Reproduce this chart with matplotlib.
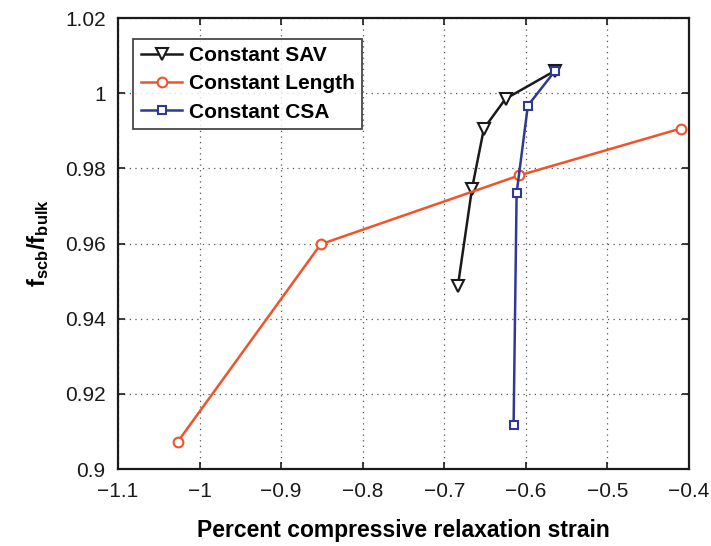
import matplotlib
matplotlib.use("Agg")
import matplotlib.pyplot as plt
from matplotlib.ticker import FuncFormatter

plt.rcParams['font.family'] = ['Liberation Sans', 'DejaVu Sans']
plt.rcParams['mathtext.fontset'] = 'custom'
plt.rcParams['mathtext.rm'] = 'Liberation Sans'
plt.rcParams['mathtext.bf'] = 'Liberation Sans:bold'
plt.rcParams['mathtext.it'] = 'Liberation Sans:italic'

sav_x = [-0.6834, -0.666, -0.6514, -0.6249, -0.564]
sav_y = [0.9486, 0.9746, 0.9906, 0.9985, 1.006]
len_x = [-1.0266, -0.8515, -0.6084, -0.410]
len_y = [0.9073, 0.9598, 0.9781, 0.9906]
csa_x = [-0.6150, -0.6113, -0.5975, -0.5640]
csa_y = [0.9118, 0.9734, 0.9967, 1.006]

xticks = [-1.1, -1.0, -0.9, -0.8, -0.7, -0.6, -0.5, -0.4]
yticks = [0.9, 0.92, 0.94, 0.96, 0.98, 1.0, 1.02]

fig = plt.figure(figsize=(7.11, 5.46), dpi=100)
ax = fig.add_axes([0.166, 0.141, 0.803, 0.826])

ax.plot(sav_x, sav_y, color='#1a1a1a', lw=1.8, marker='v', ms=8, mfc='white', mec='#1a1a1a', mew=1.5, label='Constant SAV')
ax.plot(len_x, len_y, color='#f0532a', lw=1.8, marker='o', ms=7, mfc='white', mec='#f0532a', mew=1.5, label='Constant Length')
ax.plot(csa_x, csa_y, color='#2e3a93', lw=1.8, marker='s', ms=6, mfc='white', mec='#2e3a93', mew=1.5, label='Constant CSA')

ax.set_xlim(-1.1, -0.4)
ax.set_ylim(0.9, 1.02)
ax.set_xticks(xticks)
ax.set_yticks(yticks)

def fmt(v, pos):
    s = ('%g' % round(v, 4))
    return s.replace('-', '\u2212')
ax.xaxis.set_major_formatter(FuncFormatter(fmt))
ax.yaxis.set_major_formatter(FuncFormatter(fmt))

ax.grid(True, linestyle=(0, (1, 3.5)), color='#555555', lw=0.9)
ax.tick_params(direction='in', length=5, width=1.2, labelsize=15, top=True, right=True, colors='#1a1a1a', pad=9)
for s in ax.spines.values():
    s.set_linewidth(1.6)
    s.set_color('#1a1a1a')

ax.set_xlabel('Percent compressive relaxation strain', fontsize=16.5, fontweight='bold', labelpad=13)
ax.set_ylabel(r'$\mathbf{f_{scb}/f_{bulk}}$', fontsize=17, labelpad=10)

leg = ax.legend(loc='upper left', bbox_to_anchor=(0.016, 0.968), prop={'weight': 'bold', 'size': 15},
                frameon=True, fancybox=False, edgecolor='#1a1a1a', handlelength=2.0, borderpad=0.35,
                labelspacing=0.45, handletextpad=0.3, borderaxespad=0.3)
leg.get_frame().set_linewidth(1.3)

fig.savefig('out.png', dpi=100)
